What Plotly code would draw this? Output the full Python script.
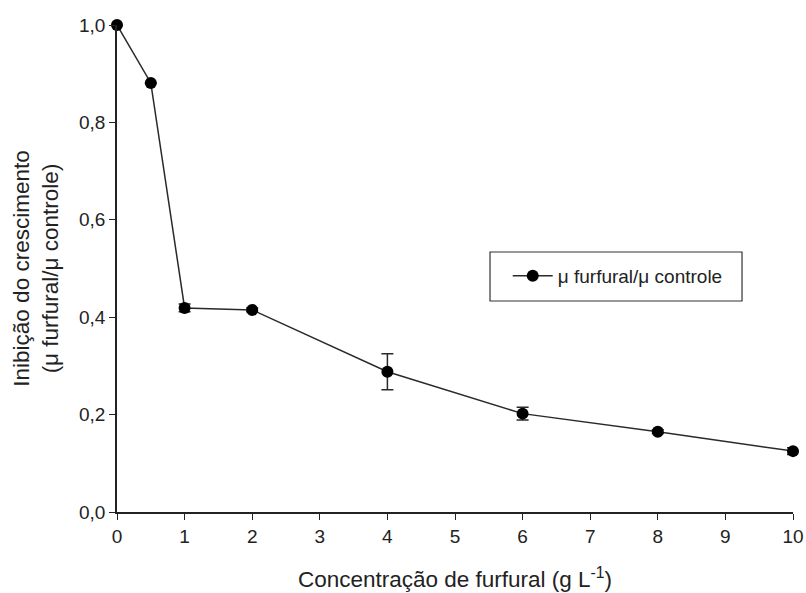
import plotly.graph_objects as go

# Furfural concentration (g/L) and relative growth inhibition
concentracao = [0, 0.5, 1, 2, 4, 6, 8, 10]
razao_mu = [1.0, 0.881, 0.419, 0.415, 0.288, 0.202, 0.165, 0.125]
desvio = [0.0, 0.0, 0.008, 0.004, 0.037, 0.013, 0.004, 0.007]

x_ticks = list(range(0, 11))
y_ticks = [0.0, 0.2, 0.4, 0.6, 0.8, 1.0]
y_tick_text = ["0,0", "0,2", "0,4", "0,6", "0,8", "1,0"]

fig = go.Figure()
fig.add_trace(go.Scatter(
    x=concentracao,
    y=razao_mu,
    mode="lines+markers",
    name="μ furfural/μ controle",
    line=dict(color="#2a2a2a", width=1.5),
    marker=dict(color="black", size=12),
    error_y=dict(type="data", array=desvio, visible=True,
                 color="#2a2a2a", thickness=1.5, width=6),
    cliponaxis=False,
))

font_family = "Liberation Sans, Arial, sans-serif"

# Framed legend box
fig.add_shape(type="rect", xref="paper", yref="paper",
              x0=0.5518, x1=0.9246, y0=0.4333, y1=0.5339,
              line=dict(color="#333", width=1.2), fillcolor="rgba(0,0,0,0)")

fig.update_layout(
    width=806, height=593,
    margin=dict(l=117, r=13, t=25, b=81),
    plot_bgcolor="white", paper_bgcolor="white",
    font=dict(family=font_family, color="#222", size=18),
    showlegend=True,
    legend=dict(
        x=0.578, y=0.4846, xanchor="left", yanchor="middle",
        borderwidth=0, bgcolor="rgba(0,0,0,0)",
        itemwidth=40,
        font=dict(size=19, family=font_family),
    ),
    xaxis=dict(
        range=[0, 10], tickvals=x_ticks, automargin=False,
        showgrid=False, zeroline=False,
        showline=True, linecolor="#222", linewidth=1.5,
        ticks="outside", ticklen=6, tickwidth=1.2, tickcolor="#222",
        tickfont=dict(size=19),
        title=dict(text="Concentração de furfural (g L<sup>-1</sup>)",
                   font=dict(size=22.5), standoff=26),
    ),
    yaxis=dict(
        range=[0, 1.0], tickvals=y_ticks, ticktext=y_tick_text, automargin=False,
        showgrid=False, zeroline=False,
        showline=True, linecolor="#222", linewidth=1.5,
        ticks="outside", ticklen=6, tickwidth=1.2, tickcolor="#222",
        tickfont=dict(size=19),
        title=dict(text="Inibição do crescimento<br>(μ furfural/μ controle)",
                   font=dict(size=22.5), standoff=14),
    ),
)

fig.write_html("out.html")
